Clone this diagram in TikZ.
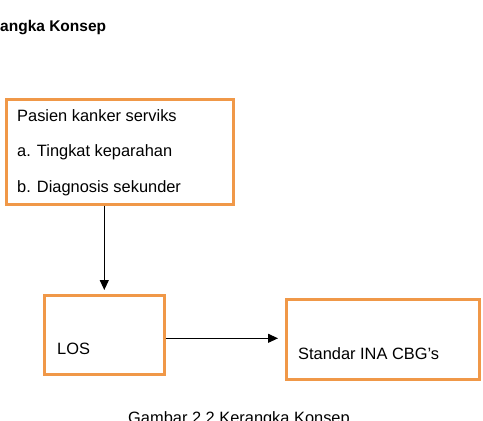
\documentclass[tikz,border=0pt]{standalone}
\usepackage{fontspec}
\setmainfont{Liberation Sans}
\usetikzlibrary{arrows.meta}
\definecolor{boxorange}{RGB}{240,152,72}
\tikzset{
  box/.style={draw=boxorange, line width=2.6pt, fill=white, inner sep=0pt, anchor=north west},
  lbl/.style={font=\fontsize{16.4}{19}\selectfont, inner sep=0pt, anchor=west},
  arr/.style={-{Triangle[length=10pt,width=9pt]}, line width=1.1pt, black},
}
\begin{document}
\begin{tikzpicture}[x=1pt,y=-1pt]
\useasboundingbox (0,0) rectangle (483,421);
\clip (0,0) rectangle (483,421);
\node[lbl, font=\bfseries\fontsize{15.5}{18}\selectfont] (title) at (0,28) {angka Konsep};
\node[box, minimum width=227pt, minimum height=105pt] (b1) at (5,98) {};
\node[lbl] (t1) at (17,116) {Pasien kanker serviks};
\node[lbl] (t2) at (17,152) {a. Tingkat keparahan};
\node[lbl] (t3) at (17,188) {b. Diagnosis sekunder};
\node[box, minimum width=120pt, minimum height=79pt] (los) at (43,294) {};
\node[lbl] (tlos) at (57,349) {LOS};
\node[box, minimum width=193pt, minimum height=80pt] (std) at (285,298) {};
\node[lbl] (tstd) at (298,354) {Standar INA CBG’s};
\draw[arr] (los.north |- b1.south) -- ([yshift=4pt]los.north);
\draw[arr] ([yshift=-3.5pt]los.east) -- ([xshift=-7pt,yshift=-3.5pt]std.west |- los.east);
\node[lbl, anchor=north] (cap) at (239,411) {Gambar 2.2 Kerangka Konsep};
\end{tikzpicture}
\end{document}
